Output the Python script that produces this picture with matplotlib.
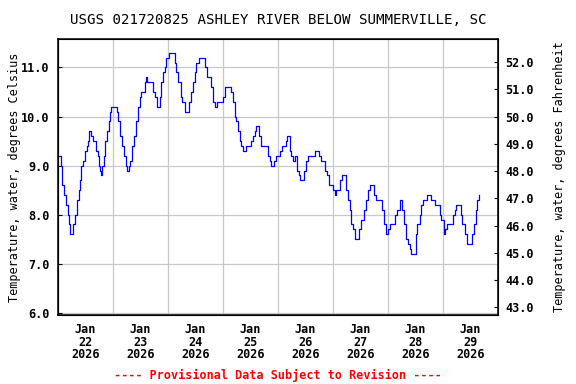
import pandas as pd
import matplotlib
matplotlib.use("Agg")
import matplotlib.pyplot as plt
import matplotlib.dates as mdates
from matplotlib.ticker import MultipleLocator, FormatStrFormatter

# hours after 2026-01-22 00:00 and water temperature (deg C)
hours = [0.4, 1.3, 1.8, 2.6, 3.5, 4.4, 4.8, 5.2, 6.1, 6.6, 7.4, 8.3, 9.2, 9.6, 10.0,
         10.9, 11.8, 12.7, 13.1, 13.5, 14.4, 15.3, 16.2, 16.6, 17.5, 17.9, 18.3, 18.8,
         19.2, 20.1, 20.5, 21.4, 22.3, 22.7, 23.1, 24.9, 25.8, 26.2, 27.1, 27.9, 28.8,
         29.7, 30.1, 31.0, 31.4, 32.3, 33.2, 34.0, 34.9, 35.8, 36.2, 37.5, 38.0, 38.4,
         38.8, 40.6, 41.5, 42.3, 43.2, 43.6, 44.5, 45.0, 45.8, 46.7, 47.1, 48.4, 49.8,
         51.1, 51.5, 52.4, 53.7, 54.1, 55.4, 55.9, 57.2, 58.0, 58.9, 59.8, 60.2, 61.1,
         61.5, 63.7, 64.2, 65.0, 66.8, 67.6, 68.5, 69.0, 69.4, 71.1, 72.0, 72.9, 75.1,
         75.5, 76.4, 77.2, 77.7, 78.6, 79.4, 79.9, 80.7, 81.6, 82.0, 83.8, 84.2, 85.1,
         86.0, 86.4, 87.3, 87.7, 88.6, 90.8, 91.6, 92.5, 93.0, 93.4, 94.3, 94.7, 95.1,
         96.9, 97.8, 99.1, 99.5, 99.9, 101.2, 101.7, 102.6, 103.4, 104.3, 105.2, 105.6,
         106.5, 107.4, 108.2, 109.1, 111.3, 112.2, 113.5, 113.9, 114.8, 115.6, 116.5,
         117.4, 118.3, 119.6, 120.0, 120.9, 121.3, 122.2, 123.1, 123.9, 125.2, 125.7,
         126.6, 127.4, 127.9, 128.7, 129.6, 130.5, 131.4, 132.2, 133.5, 134.4, 135.3,
         136.2, 137.0, 137.9, 138.8, 141.0, 141.4, 142.3, 143.1, 144.0, 144.9, 146.6,
         147.1, 147.9, 149.2, 150.1, 151.0, 151.9, 152.7, 153.6, 154.0, 155.8, 156.2,
         156.7, 158.0, 158.4, 159.3, 160.2, 161.0, 162.3, 162.8, 164.1, 164.5, 166.3,
         166.7, 167.1, 168.4, 168.9, 169.8, 171.5, 172.4, 173.2, 173.7, 175.0, 175.9,
         176.3, 177.6, 178.5, 179.8, 180.7, 181.5, 182.4, 182.8, 183.7]
temp_c = [9.2, 9.0, 8.6, 8.4, 8.2, 8.0, 7.8, 7.6, 7.6, 7.8, 8.0, 8.3, 8.5, 8.7, 9.0,
          9.1, 9.3, 9.4, 9.5, 9.7, 9.6, 9.5, 9.5, 9.3, 9.2, 9.0, 8.9, 8.8,
          9.0, 9.2, 9.5, 9.7, 9.9, 10.1, 10.2, 10.2, 10.1, 9.9, 9.6, 9.4, 9.2,
          9.0, 8.9, 9.0, 9.1, 9.4, 9.6, 9.9, 10.2, 10.4, 10.5, 10.5, 10.7, 10.8,
          10.7, 10.7, 10.5, 10.4, 10.2, 10.2, 10.4, 10.7, 10.9, 11.0, 11.2, 11.3, 11.3,
          11.1, 10.9, 10.7, 10.4, 10.3, 10.1, 10.1, 10.3, 10.5, 10.7, 10.9, 11.1, 11.1,
          11.2, 11.2, 11.0, 10.8, 10.6, 10.3, 10.2, 10.2, 10.3, 10.3, 10.4, 10.6, 10.6,
          10.5, 10.3, 10.0, 9.9, 9.7, 9.5, 9.4, 9.3, 9.3, 9.4, 9.4, 9.5, 9.6,
          9.7, 9.8, 9.8, 9.6, 9.4, 9.4, 9.2, 9.1, 9.0, 9.0, 9.1, 9.1, 9.2,
          9.3, 9.4, 9.4, 9.5, 9.6, 9.3, 9.2, 9.1, 9.2, 8.9, 8.8, 8.7,
          8.7, 8.9, 9.1, 9.2, 9.2, 9.3, 9.3, 9.2, 9.1, 9.1, 8.9,
          8.8, 8.6, 8.6, 8.5, 8.4, 8.5, 8.5, 8.7, 8.8, 8.8, 8.5,
          8.3, 8.1, 7.8, 7.7, 7.5, 7.5, 7.7, 7.9, 8.1, 8.3, 8.5,
          8.6, 8.6, 8.4, 8.3, 8.3, 8.1, 7.8, 7.6, 7.7, 7.8, 7.8,
          8.0, 8.1, 8.3, 8.1, 7.8, 7.5, 7.4, 7.3, 7.2, 7.2, 7.6,
          7.8, 8.0, 8.2, 8.3, 8.3, 8.4, 8.4, 8.3, 8.3, 8.2, 8.2,
          8.0, 7.9, 7.6, 7.7, 7.8, 7.8, 8.0, 8.1, 8.2, 8.2, 8.0,
          7.8, 7.6, 7.4, 7.4, 7.6, 7.8, 8.1, 8.3, 8.4]

title = "USGS 021720825 ASHLEY RIVER BELOW SUMMERVILLE, SC"
start = pd.Timestamp("2026-01-22")
end = pd.Timestamp("2026-01-30")

times = start + pd.to_timedelta(hours, unit="h")

plt.rcParams["font.family"] = "DejaVu Sans Mono"
plt.rcParams["font.weight"] = "bold"
plt.rcParams["font.size"] = 8.5

fig = plt.figure(figsize=(5.76, 3.84), dpi=100)
ax = fig.add_axes([0.1007, 0.1797, 0.7639, 0.7187])

ax.plot(times, temp_c, color="#0000ff", lw=0.9, drawstyle="steps-post")

ax.set_xlim(start, end)
ax.set_ylim(5.955, 11.58)

ax.xaxis.set_major_locator(mdates.DayLocator())
ax.xaxis.set_major_formatter(plt.NullFormatter())
ax.xaxis.set_minor_locator(mdates.HourLocator(byhour=[12]))
ax.xaxis.set_minor_formatter(mdates.DateFormatter("Jan\n%d\n%Y"))
ax.tick_params(axis="x", which="both", length=0, pad=6)
for lbl in ax.xaxis.get_minorticklabels():
    lbl.set_linespacing(0.95)

ax.yaxis.set_major_locator(MultipleLocator(1.0))
ax.yaxis.set_major_formatter(FormatStrFormatter("%.1f"))
ax.tick_params(axis="y", direction="in", length=3, pad=6)

ax.grid(True, which="major", color="#c8c8c8", lw=0.9)
ax.set_axisbelow(True)
for s in ax.spines.values():
    s.set_linewidth(1.1)

ax.set_ylabel("Temperature, water, degrees Celsius", labelpad=0)

ax2 = ax.twinx()
lo, hi = ax.get_ylim()
ax2.set_ylim(lo * 1.8 + 32, hi * 1.8 + 32)
ax2.yaxis.set_major_locator(MultipleLocator(1.0))
ax2.yaxis.set_major_formatter(FormatStrFormatter("%.1f"))
ax2.tick_params(axis="y", direction="in", length=3, pad=5)
ax2.set_ylabel("Temperature, water, degrees Fahrenheit", labelpad=14)

ax.set_title(title, pad=11)
fig.text(0.4826, 0.023, "---- Provisional Data Subject to Revision ----",
         color="red", ha="center", va="center")

fig.savefig("out.png", dpi=100)
